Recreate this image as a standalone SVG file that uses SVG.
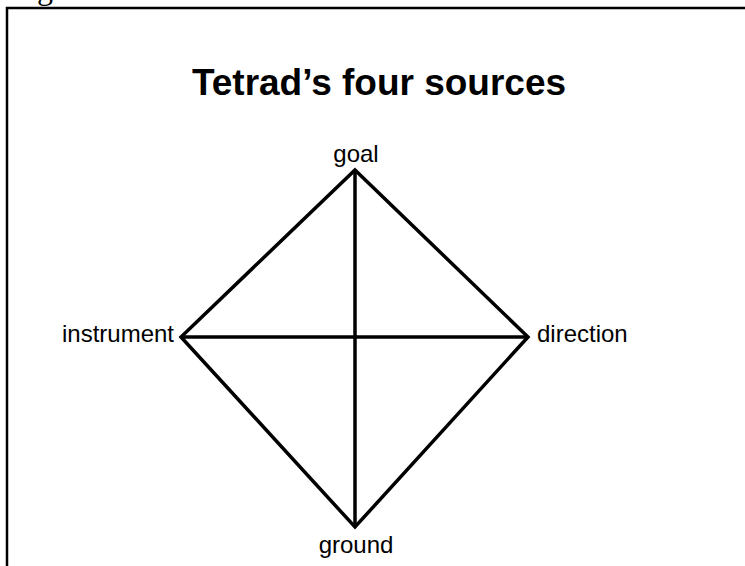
<svg xmlns="http://www.w3.org/2000/svg" width="745" height="566" viewBox="0 0 745 566">
<style>
.lbl{font-family:"Liberation Sans",Arial,sans-serif;font-size:24px;fill:#000}
.title{font-family:"Liberation Sans",Arial,sans-serif;font-size:37px;font-weight:bold;fill:#000}
.edge{stroke:#000;stroke-width:3.5;fill:none;stroke-linejoin:miter}
</style>
<rect width="745" height="566" fill="#fff"/>
<text x="37" y="-1" font-family="'Liberation Serif','Times New Roman',serif" font-size="32">g</text>
<path d="M7,566 V8 H745" stroke="#000" stroke-width="2.5" fill="none"/>
<text class="title" x="379" y="95" text-anchor="middle">Tetrad’s four sources</text>
<g id="connectors">
<path class="edge" d="M355,170 L528,337 L355,527 L181,337 Z"/>
<line class="edge" x1="355" y1="170" x2="355" y2="527"/>
<line class="edge" x1="181" y1="337" x2="528" y2="337"/>
</g>
<g id="goal"><text class="lbl" x="356" y="162" text-anchor="middle">goal</text></g>
<g id="instrument"><text class="lbl" x="174" y="342" text-anchor="end">instrument</text></g>
<g id="direction"><text class="lbl" x="537" y="342">direction</text></g>
<g id="ground"><text class="lbl" x="356" y="553" text-anchor="middle">ground</text></g>
</svg>
